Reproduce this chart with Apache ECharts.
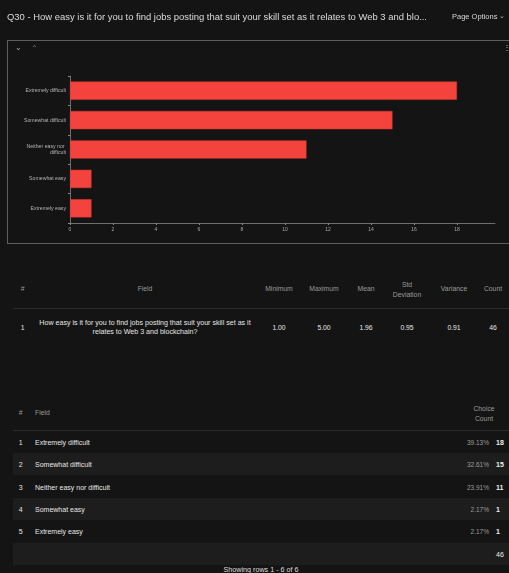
<!DOCTYPE html>
<html><head><meta charset="utf-8">
<script src="https://cdn.jsdelivr.net/npm/echarts@6/dist/echarts.min.js"></script>
<style>
html,body{margin:0;padding:0;background:#141414;width:509px;height:573px;overflow:hidden;font-family:"Liberation Sans",Arial,sans-serif;}
.a{position:absolute;white-space:nowrap;}
.c{transform:translate(-50%,-50%);text-align:center;}
.l{transform:translateY(-50%);}
.r{transform:translate(-100%,-50%);text-align:right;}
#chart{position:absolute;left:0;top:0;width:509px;height:250px;}
#box{position:absolute;left:7px;top:40px;width:510px;height:204px;border:1px solid #5e5e5e;box-sizing:border-box;}
.band{position:absolute;left:13px;width:496px;background:#1d1d1d;}
.hl{position:absolute;left:13px;width:496px;height:1px;background:#2a2a2a;}
.hd{color:#9a9a9a;font-size:6.8px;line-height:10px;}
.v{color:#e6e6e6;font-size:6.8px;}
</style></head>
<body>
<div id="box"></div>
<div id="chart"></div>
<div class="a l" id="title" style="left:7px;top:16px;color:#dcdcdc;font-size:9.2px;">Q30 - How easy is it for you to find jobs posting that suit your skill set as it relates to Web 3 and blo...</div>
<div class="a l" style="left:452px;top:16px;color:#d8d8d8;font-size:7.5px;">Page Options</div>
<div class="a c" style="left:502px;top:16px;color:#bbb;font-size:7px;">&#8964;</div>
<div class="a c" style="left:18px;top:47px;color:#aaa;font-size:8px;">&#8964;</div>
<div class="a c" style="left:34px;top:48px;color:#777;font-size:8px;">&#8963;</div>
<div class="a c" style="left:507px;top:47px;color:#bbb;font-size:8px;">&#8942;</div>
<div id="tables"></div>
<script>
// ---- data ----
const categories = ["Extremely difficult","Somewhat difficult","Neither easy nor difficult","Somewhat easy","Extremely easy"];
const counts = [18, 15, 11, 1, 1];
const percents = ["39.13%","32.61%","23.91%","2.17%","2.17%"];
const xTicks = [0,2,4,6,8,10,12,14,16,18];
const total = 46;
const statHeaders = ["Minimum","Maximum","Mean","Std\nDeviation","Variance","Count"];
const statValues = ["1.00","5.00","1.96","0.95","0.91","46"];
const fieldText = ["How easy is it for you to find jobs posting that suit your skill set as it","relates to Web 3 and blockchain?"];

// ---- chart ----
const chart = echarts.init(document.getElementById('chart'), null, {renderer:'canvas'});
chart.setOption({
  backgroundColor:'transparent',
  animation:false,
  grid:{left:70, top:76, width:425, height:147, containLabel:false},
  xAxis:{type:'value', min:xTicks[0], max:19.77, interval:xTicks[1]-xTicks[0],
    splitLine:{show:false},
    axisLine:{show:true, lineStyle:{color:'#6e6e6e', width:1}},
    axisTick:{show:true, length:2, lineStyle:{color:'#8a8a8a'}},
    axisLabel:{color:'#a8a8a8', fontSize:5, margin:4, showMaxLabel:false,
      formatter:v=> xTicks.indexOf(v)>=0 ? String(v) : ''}},
  yAxis:{type:'category', data:categories, inverse:true,
    axisLine:{show:true, lineStyle:{color:'#6e6e6e', width:1}},
    axisTick:{show:true, length:2, lineStyle:{color:'#8a8a8a'}},
    axisLabel:{color:'#b4b4b4', fontSize:5.2, margin:4, width:48, overflow:'break', lineHeight:6.5}},
  series:[{type:'bar', data:counts, barWidth:'62%',
    itemStyle:{color:'#f4433c', borderColor:'#d63a33', borderWidth:0.5}}]
});

// ---- tables (HTML) ----
const T = document.getElementById('tables');
function add(html){ T.insertAdjacentHTML('beforeend', html); }
// table 1
add(`<div class="a c hd" style="left:22.7px;top:289px;">#</div>`);
add(`<div class="a c hd" style="left:145px;top:289px;">Field</div>`);
const sx = [279,324,366,407,454,493];
statHeaders.forEach((h,i)=>add(`<div class="a c hd" style="left:${sx[i]}px;top:${h.indexOf('\n')>=0?290:289}px;white-space:pre;">${h}</div>`));
add(`<div class="hl" style="top:308px;"></div>`);
add(`<div class="a c v" style="left:22.7px;top:327px;">1</div>`);
add(`<div class="a c v" style="left:145px;top:327.5px;line-height:9px;font-size:7.1px;">${fieldText.join('<br>')}</div>`);
statValues.forEach((v,i)=>add(`<div class="a c v" style="left:${sx[i]}px;top:327px;">${v}</div>`));
// table 2
add(`<div class="a c hd" style="left:20.7px;top:413px;">#</div>`);
add(`<div class="a l hd" style="left:35px;top:413px;">Field</div>`);
add(`<div class="a c hd" style="left:484px;top:414px;white-space:pre;">Choice\nCount</div>`);
add(`<div class="hl" style="top:430px;"></div>`);
const rowTop = 430.5, rowH = 22.4;
for(let i=0;i<=categories.length;i++){
  const y0 = rowTop + i*rowH;
  if(i%2===1) add(`<div class="band" style="top:${y0}px;height:${rowH}px;"></div>`);
}
categories.forEach((c,i)=>{
  const yc = rowTop + i*rowH + rowH/2;
  add(`<div class="a c v" style="left:20.7px;top:${yc}px;font-size:7px;">${i+1}</div>`);
  add(`<div class="a l v" style="left:35px;top:${yc}px;font-size:7px;">${c}</div>`);
  add(`<div class="a r" style="left:489px;top:${yc}px;color:#9c9c9c;font-size:6.5px;">${percents[i]}</div>`);
  add(`<div class="a l" style="left:496px;top:${yc}px;color:#eee;font-size:7px;font-weight:bold;">${counts[i]}</div>`);
});
add(`<div class="a l" style="left:496px;top:${rowTop+5*rowH+rowH/2}px;color:#eee;font-size:7px;">${total}</div>`);
add(`<div class="a c" style="left:261px;top:569px;color:#dcdcdc;font-size:7.2px;">Showing rows 1 - 6 of 6</div>`);

// fit title width
const t = document.getElementById('title');
const w = t.getBoundingClientRect().width;
t.style.fontSize = (9.2*420/w)+'px';
</script>
</body></html>
